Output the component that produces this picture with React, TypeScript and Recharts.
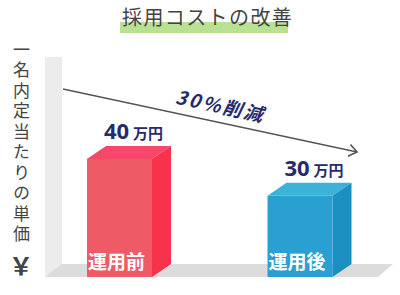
import React from 'react';
import { BarChart, Bar, XAxis, YAxis, LabelList } from 'recharts';

const categories = ['運用前', '運用後'];
const costValues = [40, 30];
const unitText = '万円';
const titleText = '採用コストの改善';
const axisTitle = '一名内定当たりの単価';
const currencyText = '￥';
const reductionText = '30%削減';

const data = categories.map((name, i) => ({ name, value: costValues[i] }));

const palette = {
  front: ['#ee5a66', '#2a9fd1'],
  side: ['#f7334b', '#1a90c1'],
  top: ['#f8476a', '#3db2d9'],
};

const JP = '"Noto Sans CJK JP", "Noto Sans", sans-serif';
const NUM = '"Open Sans", "Noto Sans CJK JP", sans-serif';
const DX = 19;
const DY = 13;

const Bar3D = (props: any) => {
  const { x, y, width, height, index } = props;
  const i = index ?? 0;
  const r = x + width;
  const b = y + height;
  return (
    <g>
      <polygon
        points={`${x},${y} ${x + DX},${y - DY} ${r + DX},${y - DY} ${r},${y}`}
        fill={palette.top[i]}
      />
      <polygon
        points={`${r},${y} ${r + DX},${y - DY} ${r + DX},${b - DY} ${r},${b}`}
        fill={palette.side[i]}
      />
      <rect x={x} y={y} width={width} height={height} fill={palette.front[i]} />
    </g>
  );
};

const TopLabel = (props: any) => {
  const { x, y, width, value } = props;
  return (
    <text
      x={x + width / 2 + 14}
      y={y - 20}
      textAnchor="middle"
      fill="#262a6b"
      fontWeight="bold"
      fontFamily={NUM}
    >
      <tspan fontSize={22}>{value}</tspan>
      <tspan fontSize={15} dx={4} fontFamily={JP}>
        {unitText}
      </tspan>
    </text>
  );
};

const NameLabel = (props: any) => {
  const { x, y, height, value } = props;
  return (
    <text
      x={x + 1}
      y={y + height - 8}
      fill="#ffffff"
      fontWeight="bold"
      fontSize={19}
      fontFamily={JP}
    >
      {value}
    </text>
  );
};

export default function App() {
  return (
    <div style={{ position: 'absolute', left: 0, top: 0, width: 400, height: 295, background: '#fff' }}>
      <svg width={400} height={295} style={{ position: 'absolute', left: 0, top: 0 }}>
        <defs>
          <marker id="arrowHead" markerWidth="14" markerHeight="14" refX="10" refY="7" orient="auto" markerUnits="userSpaceOnUse">
            <polyline points="2,1 10,7 2,13" fill="none" stroke="#555" strokeWidth={1.6} />
          </marker>
        </defs>
        <rect x={120} y={22} width={168} height={11} fill="#b8e194" />
        <text x={122} y={25} fontSize={20} fill="#444" fontFamily={JP} letterSpacing={1.4}>
          {titleText}
        </text>
        <rect x={45} y={57} width={17} height={220} fill="#ececec" />
        <polygon points="45,277 62,264 393,264 378,277" fill="#dcdcdc" />
        <line x1={63} y1={89} x2={357} y2={152} stroke="#555" strokeWidth={1.5} markerEnd="url(#arrowHead)" />
        <text
          x={219}
          y={113}
          textAnchor="middle"
          fontSize={19}
          fontWeight="bold"
          fontStyle="italic"
          fill="#262a6b"
          fontFamily={JP}
          letterSpacing={2.5}
          transform="rotate(12 219 113)"
        >
          {reductionText}
        </text>
        <text x={21} y={275} textAnchor="middle" fontSize={24} fontWeight="bold" fill="#444" fontFamily={JP}>
          {currencyText}
        </text>
      </svg>
      <div
        style={{
          position: 'absolute',
          left: 12,
          top: 41,
          width: 18,
          writingMode: 'vertical-rl',
          fontSize: 17,
          lineHeight: '18px',
          letterSpacing: 3.5,
          color: '#444',
          fontFamily: JP,
        }}
      >
        {axisTitle}
      </div>
      <div style={{ position: 'absolute', left: 0, top: 0 }}>
        <BarChart width={400} height={295} data={data} margin={{ top: 122, right: 10, bottom: 18, left: 29 }}>
          <XAxis dataKey="name" hide />
          <YAxis hide domain={[8, 50]} />
          <Bar dataKey="value" barSize={65} shape={Bar3D} isAnimationActive={false}>
            <LabelList dataKey="value" content={TopLabel} />
            <LabelList dataKey="name" content={NameLabel} />
          </Bar>
        </BarChart>
      </div>
    </div>
  );
}
